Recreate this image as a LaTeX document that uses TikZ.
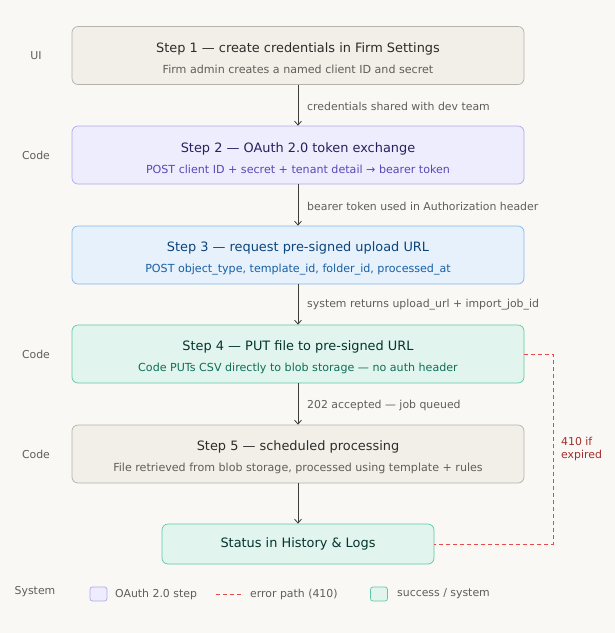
\documentclass[tikz,border=0pt]{standalone}
\usepackage{fontspec}
\setmainfont{DejaVu Sans}
\usetikzlibrary{arrows.meta}
\usetikzlibrary{calc}
\definecolor{bg-paper}{HTML}{F9F8F5}
\definecolor{neutral-fill}{HTML}{F1EFE8}
\definecolor{neutral-line}{HTML}{B4B2A9}
\definecolor{neutral-title}{HTML}{2C2C2A}
\definecolor{neutral-sub}{HTML}{5F5E5A}
\definecolor{oauth-fill}{HTML}{EEEDFE}
\definecolor{oauth-line}{HTML}{AFA9EC}
\definecolor{oauth-title}{HTML}{26215C}
\definecolor{oauth-sub}{HTML}{534AB7}
\definecolor{req-fill}{HTML}{E6F1FB}
\definecolor{req-line}{HTML}{85B7EB}
\definecolor{req-title}{HTML}{0C447C}
\definecolor{req-sub}{HTML}{185FA5}
\definecolor{ok-fill}{HTML}{E1F5EE}
\definecolor{ok-line}{HTML}{5DCAA5}
\definecolor{ok-title}{HTML}{04342C}
\definecolor{ok-sub}{HTML}{0F6E56}
\definecolor{err-line}{HTML}{E24B4A}
\definecolor{err-text}{HTML}{A32D2D}
\definecolor{arrow-grey}{HTML}{3D3D3A}
\tikzstyle{stepbox}=[draw, rounded corners=6pt, line width=0.7pt, minimum width=452pt, minimum height=58pt, align=center, inner sep=0pt]
\tikzstyle{flowarrow}=[draw=arrow-grey, line width=0.8pt, -{Straight Barb[length=4pt,width=7pt]}]
\tikzstyle{flowlabel}=[anchor=west, inner sep=0pt, font=\fontsize{10.9}{13}\selectfont, text=neutral-sub]
\tikzstyle{sidelabel}=[inner sep=0pt, font=\fontsize{10.9}{13}\selectfont, text=neutral-sub]
\tikzstyle{errorpath}=[draw=err-line, dash pattern=on 4pt off 3pt, line width=0.9pt]
\tikzstyle{keybox}=[draw, rounded corners=2.5pt, line width=0.7pt, minimum width=17pt, minimum height=14pt, inner sep=0pt]
\newcommand{\steptext}[4]{{\rule{0pt}{16pt}\fontsize{12.9}{15}\selectfont\color{#1}#2}\\[9pt]{\fontsize{11.1}{13}\selectfont\color{#3}#4}}

\begin{document}
\begin{tikzpicture}[x=1pt,y=-1pt]
	% paper
	\fill[bg-paper] (0,0) rectangle (615,633);
	\useasboundingbox (0,0) rectangle (615,633);
	% steps
	\node[stepbox, fill=neutral-fill, draw=neutral-line] (s1) at (298,55.5)
		{\steptext{neutral-title}{Step 1 — create credentials in Firm Settings}{neutral-sub}{Firm admin creates a named client ID and secret}};
	\node[stepbox, fill=oauth-fill, draw=oauth-line] (s2) at (298,155)
		{\steptext{oauth-title}{Step 2 — OAuth 2.0 token exchange}{oauth-sub}{POST client ID + secret + tenant detail → bearer token}};
	\node[stepbox, fill=req-fill, draw=req-line] (s3) at (298,255)
		{\steptext{req-title}{Step 3 — request pre-signed upload URL}{req-sub}{POST object\_type, template\_id, folder\_id, processed\_at}};
	\node[stepbox, fill=ok-fill, draw=ok-line] (s4) at (298,354)
		{\steptext{ok-title}{Step 4 — PUT file to pre-signed URL}{ok-sub}{Code PUTs CSV directly to blob storage — no auth header}};
	\node[stepbox, fill=neutral-fill, draw=neutral-line] (s5) at (298,454)
		{\steptext{neutral-title}{Step 5 — scheduled processing}{neutral-sub}{File retrieved from blob storage, processed using template + rules}};
	\node[stepbox, fill=ok-fill, draw=ok-line, minimum width=272pt, minimum height=40pt] (status) at (298,544)
		{\fontsize{12.9}{15}\selectfont\color{ok-title}Status in History \& Logs};
	% side labels
	\node[sidelabel] (lane1) at (36,56) {UI};
	\node[sidelabel] (lane2) at (36,155) {Code};
	\node[sidelabel] (lane4) at (36,354) {Code};
	\node[sidelabel] (lane5) at (36,454) {Code};
	\node[sidelabel] (lane6) at (35,592) {System};
	% arrows and their labels
	\draw[flowarrow] (s1) -- (s2);
	\node[flowlabel] (a1) at (307,106) {credentials shared with dev team};
	\draw[flowarrow] (s2) -- (s3);
	\node[flowlabel] (a2) at (307,206) {bearer token used in Authorization header};
	\draw[flowarrow] (s3) -- (s4);
	\node[flowlabel] (a3) at (307,305) {system returns upload\_url + import\_job\_id};
	\draw[flowarrow] (s4) -- (s5);
	\node[flowlabel] (a4) at (307,405) {202 accepted — job queued};
	\draw[flowarrow] (s5) -- (status);
	% error path
	\draw[errorpath] (s4.east) -- ++(29,0) |- (status.east);
	\node[anchor=west, align=left, inner sep=0pt, font=\fontsize{10.9}{13}\selectfont, text=err-text] (expired) at (561,449) {410 if\\expired};
	% legend
	\node[keybox, fill=oauth-fill, draw=oauth-line] (key1) at (98.5,594) {};
	\node[flowlabel] (key1t) at (115,594) {OAuth 2.0 step};
	\coordinate (key2a) at (216,594);
	\coordinate (key2b) at (242,594);
	\draw[errorpath] (key2a) -- (key2b);
	\node[flowlabel] (key2t) at (250,594) {error path (410)};
	\node[keybox, fill=ok-fill, draw=ok-line] (key3) at (379,594) {};
	\node[flowlabel] (key3t) at (397,594) {success / system};
\end{tikzpicture}
\end{document}
